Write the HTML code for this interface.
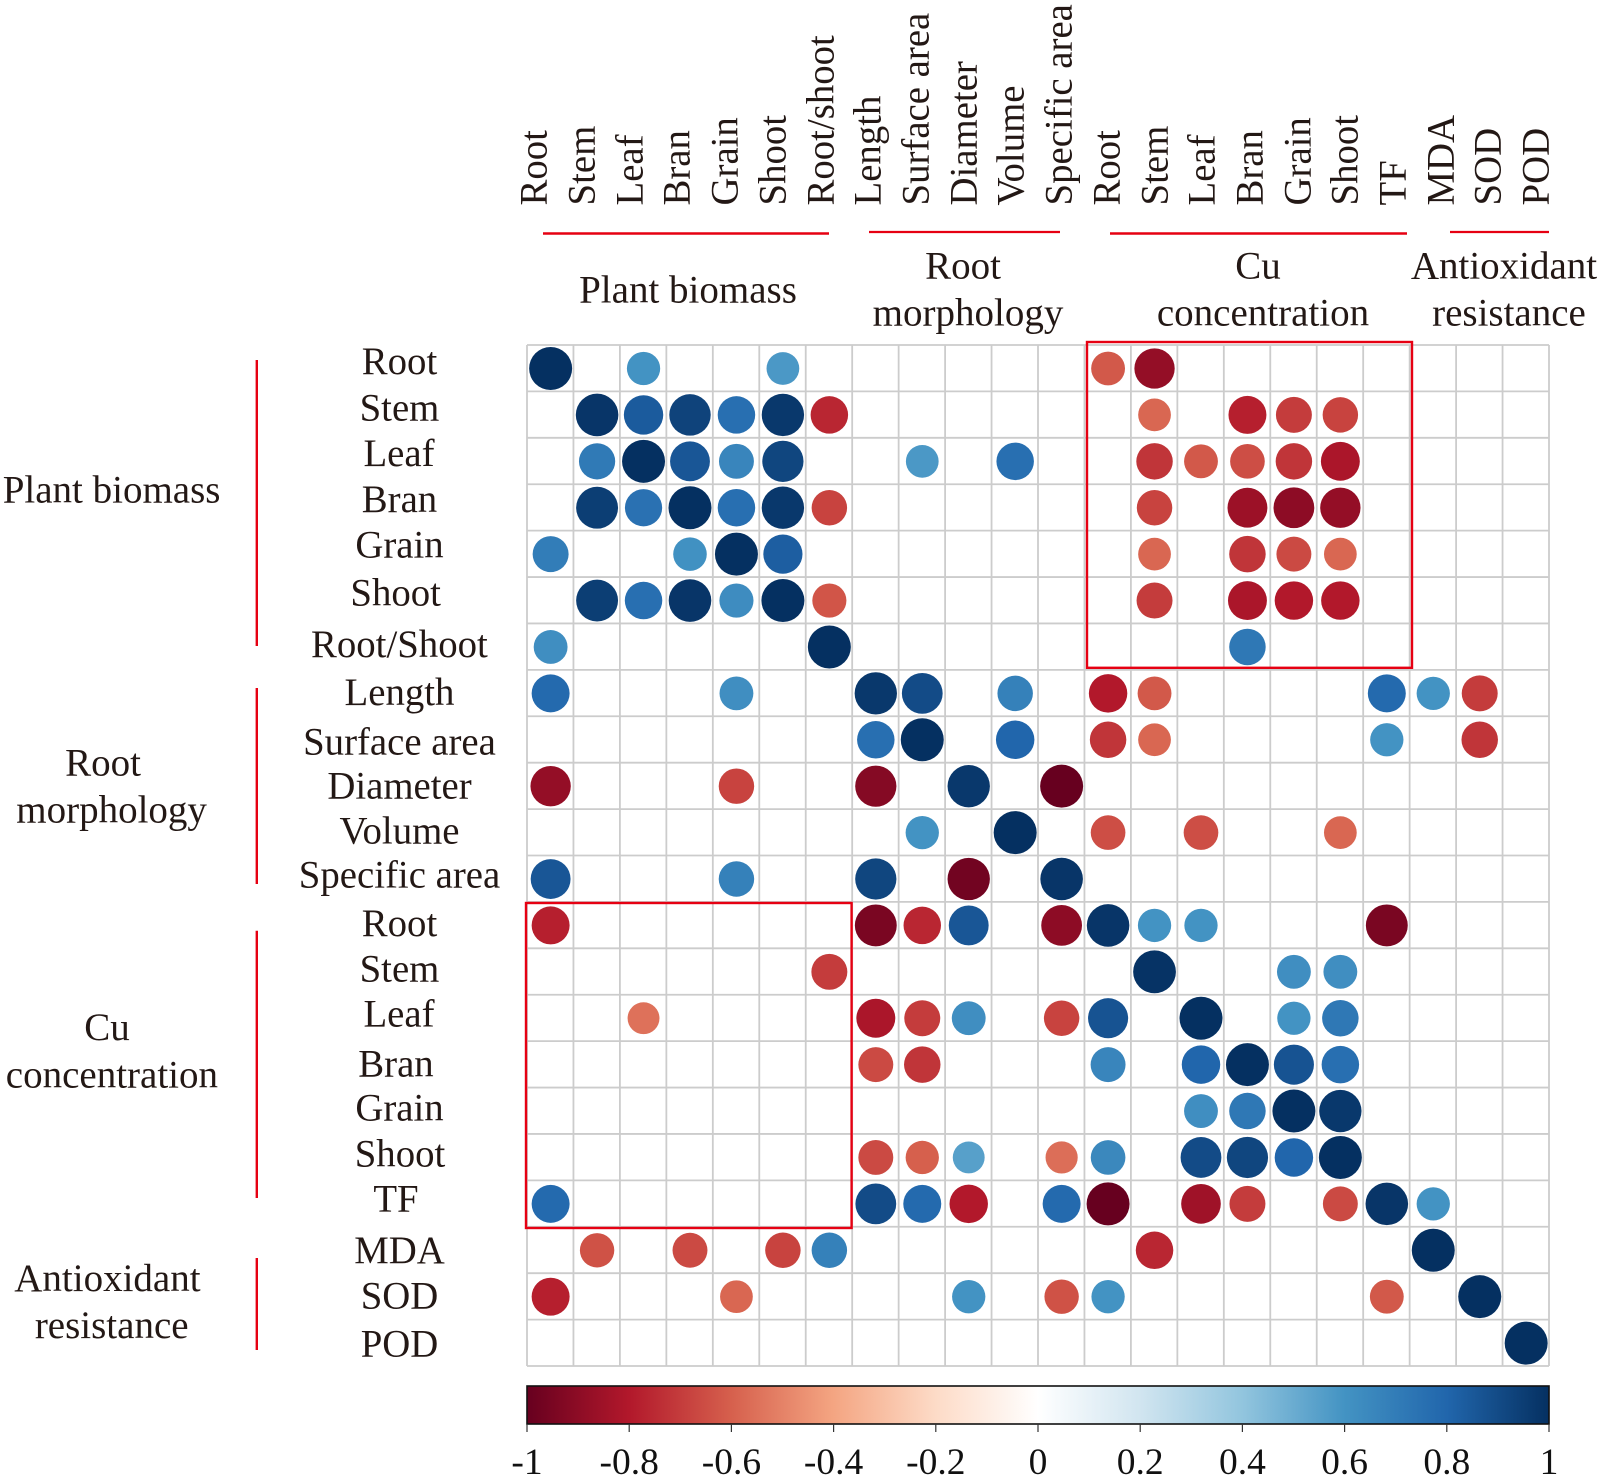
<!DOCTYPE html>
<html lang="en">
<head>
<meta charset="utf-8">
<title>Correlation matrix</title>
<style>
html,body{margin:0;padding:0;background:#fff;}
svg{display:block;}
text{font-family:"Liberation Serif",serif;fill:#231815;}
.row{font-size:38.8px;text-anchor:middle;}
.grp{font-size:39px;text-anchor:middle;}
.top{font-size:38.8px;}
.tick{font-size:37.5px;text-anchor:middle;fill:#111;}
.red{stroke:#e60012;fill:none;}
</style>
</head>
<body>
<svg xmlns="http://www.w3.org/2000/svg" width="1600" height="1478" viewBox="0 0 1600 1478">
  <defs>
    <linearGradient id="cbGrad" x1="0" x2="1" y1="0" y2="0"></linearGradient>
  </defs>
  <rect x="0" y="0" width="1600" height="1478" fill="#fff"/>
  <g id="grid"></g>
  <g id="marks"></g>

  <g>
    <text class="top" transform="translate(546.5,205.5) rotate(-90)">Root</text>
    <text class="top" transform="translate(594.5,205.5) rotate(-90)">Stem</text>
    <text class="top" transform="translate(642.5,205.5) rotate(-90)">Leaf</text>
    <text class="top" transform="translate(689.5,205.5) rotate(-90)">Bran</text>
    <text class="top" transform="translate(737.5,205.5) rotate(-90)">Grain</text>
    <text class="top" transform="translate(785.5,205.5) rotate(-90)">Shoot</text>
    <text class="top" transform="translate(833.5,205.5) rotate(-90)">Root/shoot</text>
    <text class="top" transform="translate(880.5,205.5) rotate(-90)">Length</text>
    <text class="top" transform="translate(928.5,205.5) rotate(-90)">Surface area</text>
    <text class="top" transform="translate(976.5,205.5) rotate(-90)">Diameter</text>
    <text class="top" transform="translate(1023.5,205.5) rotate(-90)">Volume</text>
    <text class="top" transform="translate(1071.5,205.5) rotate(-90)">Specific area</text>
    <text class="top" transform="translate(1119.5,205.5) rotate(-90)">Root</text>
    <text class="top" transform="translate(1167.5,205.5) rotate(-90)">Stem</text>
    <text class="top" transform="translate(1214.5,205.5) rotate(-90)">Leaf</text>
    <text class="top" transform="translate(1262.5,205.5) rotate(-90)">Bran</text>
    <text class="top" transform="translate(1310.5,205.5) rotate(-90)">Grain</text>
    <text class="top" transform="translate(1357.5,205.5) rotate(-90)">Shoot</text>
    <text class="top" transform="translate(1405.5,205.5) rotate(-90)">TF</text>
    <text class="top" transform="translate(1453.5,205.5) rotate(-90)">MDA</text>
    <text class="top" transform="translate(1500.5,205.5) rotate(-90)">SOD</text>
    <text class="top" transform="translate(1548.5,205.5) rotate(-90)">POD</text>
  </g>

  <g>
    <line class="red" x1="543" x2="829" y1="233.5" y2="233.5" stroke-width="2.4"/>
    <line class="red" x1="869" x2="1060" y1="232" y2="232" stroke-width="2.2"/>
    <line class="red" x1="1110" x2="1407" y1="233.5" y2="233.5" stroke-width="2.4"/>
    <line class="red" x1="1450" x2="1549" y1="232" y2="232" stroke-width="2.2"/>
  </g>

  <g>
    <text class="grp" x="688" y="302.5">Plant biomass</text>
    <text class="grp" x="963" y="278.5">Root</text>
    <text class="grp" x="968" y="325.5">morphology</text>
    <text class="grp" x="1258" y="278.5">Cu</text>
    <text class="grp" x="1263" y="325.5">concentration</text>
    <text class="grp" x="1504" y="278.5">Antioxidant</text>
    <text class="grp" x="1509" y="325.5">resistance</text>
  </g>

  <g>
    <text class="row" x="399.5" y="374">Root</text>
    <text class="row" x="399.5" y="420.3">Stem</text>
    <text class="row" x="399" y="466">Leaf</text>
    <text class="row" x="399.5" y="512">Bran</text>
    <text class="row" x="399.5" y="557.3">Grain</text>
    <text class="row" x="395.7" y="605.3">Shoot</text>
    <text class="row" x="399.4" y="657">Root/Shoot</text>
    <text class="row" x="399.5" y="705">Length</text>
    <text class="row" x="399.5" y="754.6">Surface area</text>
    <text class="row" x="399.5" y="798.5">Diameter</text>
    <text class="row" x="399.5" y="843.4">Volume</text>
    <text class="row" x="399.5" y="887.3">Specific area</text>
    <text class="row" x="399.5" y="936">Root</text>
    <text class="row" x="399.5" y="981.7">Stem</text>
    <text class="row" x="399" y="1026.7">Leaf</text>
    <text class="row" x="396" y="1076.7">Bran</text>
    <text class="row" x="399.5" y="1120.7">Grain</text>
    <text class="row" x="400" y="1166.5">Shoot</text>
    <text class="row" x="396" y="1211.7">TF</text>
    <text class="row" x="399.5" y="1263">MDA</text>
    <text class="row" x="399.5" y="1308.7">SOD</text>
    <text class="row" x="399.5" y="1356.7">POD</text>
  </g>

  <g>
    <line class="red" x1="256.8" x2="256.8" y1="360" y2="646" stroke-width="2.4"/>
    <line class="red" x1="256.8" x2="256.8" y1="688" y2="884" stroke-width="2.4"/>
    <line class="red" x1="256.8" x2="256.8" y1="930.7" y2="1198" stroke-width="2.4"/>
    <line class="red" x1="256.8" x2="256.8" y1="1258" y2="1350" stroke-width="2.4"/>
  </g>

  <g>
    <text class="grp" x="111.6" y="502.5">Plant biomass</text>
    <text class="grp" x="103" y="775.5">Root</text>
    <text class="grp" x="111.6" y="822.5">morphology</text>
    <text class="grp" x="107" y="1040">Cu</text>
    <text class="grp" x="111.9" y="1087.5">concentration</text>
    <text class="grp" x="107.4" y="1291.2">Antioxidant</text>
    <text class="grp" x="111.7" y="1338">resistance</text>
  </g>

  <rect class="red" x="1087" y="342" width="325" height="325.8" stroke-width="2.4"/>
  <rect class="red" x="526" y="903" width="325.6" height="325" stroke-width="2.4"/>

  <g id="colorbar"></g>
</svg>
<script>
const SIZE = 22;
const colorStops = ['#67001F','#B2182B','#D6604D','#F4A582','#FDDBC7','#FFFFFF','#D1E5F0','#92C5DE','#4393C3','#2166AC','#053061'];
const tickLabels = ['-1','-0.8','-0.6','-0.4','-0.2','0','0.2','0.4','0.6','0.8','1'];
const tickValues = [-1,-0.8,-0.6,-0.4,-0.2,0,0.2,0.4,0.6,0.8,1];
const corrRoot = [1,0,.6,0,0,.58,0,0,0,0,0,0,-.62,-.88,0,0,0,0,0,0,0,0];
const corrStem = [0,.98,.84,.93,.76,.97,-.76,0,0,0,0,0,0,-.58,0,-.78,-.7,-.68,0,0,0,0];
const corrLeaf = [0,.71,1,.86,.66,.92,0,0,.58,0,.76,0,0,-.72,-.62,-.65,-.72,-.82,0,0,0,0];
const corrBran = [0,.95,.75,1,.76,.97,-.68,0,0,0,0,0,0,-.68,0,-.86,-.9,-.88,0,0,0,0];
const corrGrain = [.7,0,0,.61,1,.83,0,0,0,0,0,0,0,-.58,0,-.72,-.66,-.58,0,0,0,0];
const corrShoot = [0,.95,.76,.98,.63,1,-.63,0,0,0,0,0,0,-.7,0,-.82,-.8,-.8,0,0,0,0];
const corrRootShoot = [.62,0,0,0,0,0,1,0,0,0,0,0,0,0,0,.72,0,0,0,0,0,0];
const corrLength = [.78,0,0,0,.62,0,0,.97,.9,0,.68,0,-.8,-.62,0,0,0,0,.78,.6,-.7,0];
const corrSurface = [0,0,0,0,0,0,0,.76,1,0,.8,0,-.72,-.58,0,0,0,0,.6,0,-.72,0];
const corrDiameter = [-.88,0,0,0,-.68,0,0,-.92,0,.97,0,-1,0,0,0,0,0,0,0,0,0,0];
const corrVolume = [0,0,0,0,0,0,0,0,.6,0,1,0,-.65,0,-.65,0,0,-.58,0,0,0,0];
const corrSpecific = [.86,0,0,0,.68,0,0,.92,0,-.97,0,.98,0,0,0,0,0,0,0,0,0,0];
const corrCuRoot = [-.78,0,0,0,0,0,0,-.95,-.76,.86,0,-.9,.98,.6,.6,0,0,0,-.95,0,0,0];
const corrCuStem = [0,0,0,0,0,0,-.7,0,0,0,0,0,0,.99,0,0,.62,.62,0,0,0,0];
const corrCuLeaf = [0,0,-.55,0,0,0,0,-.82,-.7,.62,0,-.68,.87,0,1,0,.6,.72,0,0,0,0];
const corrCuBran = [0,0,0,0,0,0,0,-.66,-.72,0,0,0,.66,0,.8,1,.87,.76,0,0,0,0];
const corrCuGrain = [0,0,0,0,0,0,0,0,0,0,0,0,0,0,.62,.72,1,.97,0,0,0,0];
const corrCuShoot = [0,0,0,0,0,0,0,-.66,-.6,.55,0,-.56,.65,0,.9,.92,.8,1,0,0,0,0];
const corrTF = [.78,0,0,0,0,0,0,.9,.78,-.8,0,.78,-1,0,-.85,-.7,0,-.66,.98,.6,0,0];
const corrMDA = [0,-.64,0,-.66,0,-.68,.68,0,0,0,0,0,0,-.76,0,0,0,0,0,1,0,0];
const corrSOD = [-.78,0,0,0,-.58,0,0,0,0,.6,0,-.64,.6,0,0,0,0,0,-.62,0,1,0];
const corrPOD = [0,0,0,0,0,0,0,0,0,0,0,0,0,0,0,0,0,0,0,0,0,1];
const matrix = [corrRoot,corrStem,corrLeaf,corrBran,corrGrain,corrShoot,corrRootShoot,corrLength,corrSurface,corrDiameter,corrVolume,corrSpecific,corrCuRoot,corrCuStem,corrCuLeaf,corrCuBran,corrCuGrain,corrCuShoot,corrTF,corrMDA,corrSOD,corrPOD];

const NS = 'http://www.w3.org/2000/svg';
const gridLeft = 527, gridRight = 1549, gridTop = 345, gridBottom = 1366;
const cellW = (gridRight - gridLeft) / SIZE, cellH = (gridBottom - gridTop) / SIZE;
const maxRadius = 21.5;
const xScale = function (col) { return gridLeft + cellW * col; };
const yScale = function (row) { return gridTop + cellH * row; };
const rScale = function (v) { return maxRadius * Math.sqrt(Math.abs(v)); };
const hex = function (s, i) { return parseInt(s.substr(i, 2), 16); };
const colorScale = function (v) {
  const t = Math.min(Math.max((v + 1) / 2, 0), 1) * (colorStops.length - 1);
  const i = Math.min(Math.floor(t), colorStops.length - 2);
  const f = t - i;
  const a = colorStops[i], b = colorStops[i + 1];
  const mix = function (p) { return Math.round(hex(a, p) + (hex(b, p) - hex(a, p)) * f); };
  return 'rgb(' + mix(1) + ',' + mix(3) + ',' + mix(5) + ')';
};

const grid = document.getElementById('grid');
for (let i = 0; i <= SIZE; i++) {
  const v = document.createElementNS(NS, 'line');
  v.setAttribute('x1', xScale(i));
  v.setAttribute('x2', xScale(i));
  v.setAttribute('y1', gridTop);
  v.setAttribute('y2', gridBottom);
  v.setAttribute('stroke', '#cccccc');
  v.setAttribute('stroke-width', '1.8');
  
  
  grid.appendChild(v);
  const h = document.createElementNS(NS, 'line');
  h.setAttribute('x1', gridLeft);
  h.setAttribute('x2', gridRight);
  h.setAttribute('y1', yScale(i));
  h.setAttribute('y2', yScale(i));
  h.setAttribute('stroke', '#cccccc');
  h.setAttribute('stroke-width', '1.8');
  
  
  grid.appendChild(h);
}

const marks = document.getElementById('marks');
matrix.forEach(function (rowValues, r) {
  rowValues.forEach(function (value, c) {
    if (!value) return;
    const dot = document.createElementNS(NS, 'circle');
    dot.setAttribute('cx', xScale(c + 0.5) + 0.4);
    dot.setAttribute('cy', yScale(r + 0.5) + 0.3);
    dot.setAttribute('r', rScale(value));
    dot.setAttribute('fill', colorScale(value));
    
    
    marks.appendChild(dot);
  });
});

const grad = document.getElementById('cbGrad');
colorStops.forEach(function (color, i) {
  const stop = document.createElementNS(NS, 'stop');
  stop.setAttribute('offset', i / (colorStops.length - 1));
  stop.setAttribute('stop-color', color);
  grad.appendChild(stop);
});

const cb = document.getElementById('colorbar');
const cbTop = 1386, cbBottom = 1424;
const cbX = function (v) { return gridLeft + (v + 1) / 2 * (gridRight - gridLeft); };
const cbRect = document.createElementNS(NS, 'rect');
cbRect.setAttribute('x', gridLeft);
cbRect.setAttribute('y', cbTop);
cbRect.setAttribute('width', gridRight - gridLeft);
cbRect.setAttribute('height', cbBottom - cbTop);
cbRect.setAttribute('fill', 'url(#cbGrad)');
cbRect.setAttribute('stroke', '#111');
cbRect.setAttribute('stroke-width', '1.6');


cb.appendChild(cbRect);
tickValues.forEach(function (v, i) {
  const t = document.createElementNS(NS, 'line');
  t.setAttribute('x1', cbX(v));
  t.setAttribute('x2', cbX(v));
  t.setAttribute('y1', cbBottom);
  t.setAttribute('y2', cbBottom + 8);
  t.setAttribute('stroke', '#333');
  t.setAttribute('stroke-width', '1.2');
  
  
  cb.appendChild(t);
  const label = document.createElementNS(NS, 'text');
  label.setAttribute('class', 'tick');
  label.setAttribute('x', cbX(v));
  label.setAttribute('y', 1474);
  
  
  label.textContent = tickLabels[i];
  cb.appendChild(label);
});
</script>
</body>
</html>
